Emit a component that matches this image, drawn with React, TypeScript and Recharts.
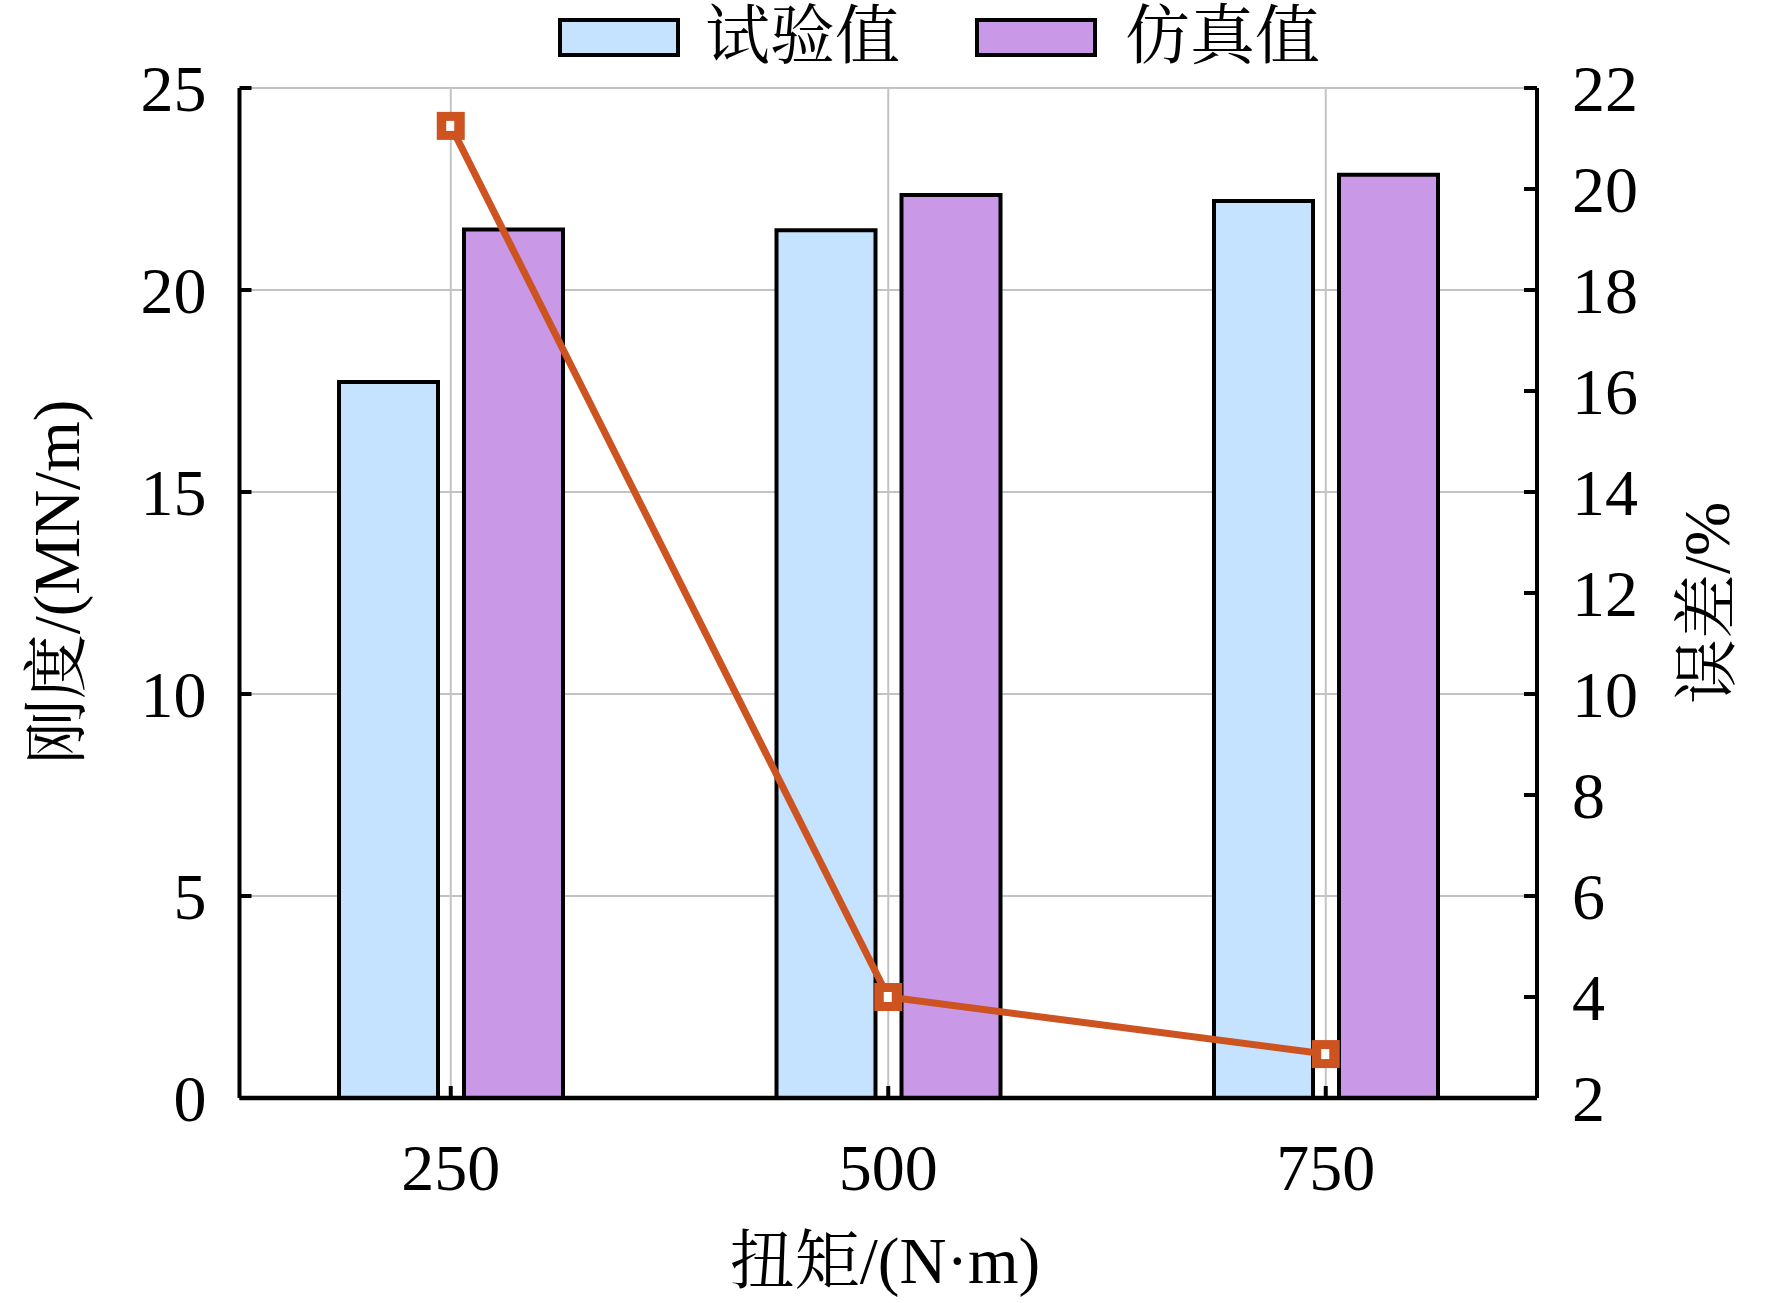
import React from "react";
import {
  ComposedChart,
  Bar,
  Line,
  XAxis,
  YAxis,
  CartesianGrid,
} from "recharts";

// 扭矩 categories and measured values
const torque = ["250", "500", "750"];
const testValues = [17.72, 21.48, 22.2]; // 试验值, MN/m
const simValues = [21.5, 22.35, 22.85]; // 仿真值, MN/m
const errorValues = [21.25, 4.0, 2.87]; // 误差, %

const leftTicks = [0, 5, 10, 15, 20, 25];
const rightTicks = [2, 4, 6, 8, 10, 12, 14, 16, 18, 20, 22];

const W = 1772;
const H = 1303;
const FONT = "'Liberation Serif', 'Times New Roman', 'Noto Serif CJK SC', 'Noto Sans CJK SC', serif";
const BLUE = "#C5E2FE";
const PURPLE = "#C999E8";
const ORANGE = "#CD5320";
const GRID = "#C3C3C3";

const data = torque.map((t, i) => ({
  torque: t,
  test: testValues[i],
  sim: simValues[i],
  error: errorValues[i],
}));

const legendItems = [
  { name: "试验值", color: BLUE, box: 558, text: 705 },
  { name: "仿真值", color: PURPLE, box: 975, text: 1125 },
];

const BottomTick = (props: any) => {
  const { x, y, payload } = props;
  return (
    <g>
      <line x1={x} x2={x} y1={y} y2={y - 12} stroke="#000" strokeWidth={4} />
      <text x={x} y={y + 92} textAnchor="middle" fontSize={66} fontFamily={FONT} fill="#000">
        {payload.value}
      </text>
    </g>
  );
};

const TopTick = (props: any) => {
  const { x, y } = props;
  return <line x1={x} x2={x} y1={y} y2={y + 12} stroke="#000" strokeWidth={4} />;
};

const LeftTick = (props: any) => {
  const { x, y, payload } = props;
  return (
    <g>
      <line x1={x} x2={x + 12} y1={y} y2={y} stroke="#000" strokeWidth={4} />
      <text x={x - 33} y={y + 23} textAnchor="end" fontSize={66} fontFamily={FONT} fill="#000">
        {payload.value}
      </text>
    </g>
  );
};

const RightTick = (props: any) => {
  const { x, y, payload } = props;
  return (
    <g>
      <line x1={x - 13} x2={x} y1={y} y2={y} stroke="#000" strokeWidth={4} />
      <text x={x + 35} y={y + 23} textAnchor="start" fontSize={66} fontFamily={FONT} fill="#000">
        {payload.value}
      </text>
    </g>
  );
};

const SquareDot = (props: any) => {
  const { cx, cy, index } = props;
  if (cx == null || cy == null) return null;
  return (
    <g key={`dot-${index}`}>
      <rect x={cx - 14} y={cy - 14} width={28} height={28} fill={ORANGE} />
      <rect x={cx - 4.5} y={cy - 5} width={8} height={10} fill="#fff" />
    </g>
  );
};

export default function App() {
  return (
    <div style={{ position: "absolute", left: 0, top: 0, width: W, height: H, background: "#fff" }}>
      <ComposedChart
        width={W}
        height={H}
        data={data}
        margin={{ top: 88, right: 0, bottom: 0, left: 0 }}
        barSize={99}
        barGap={26}
      >
        <CartesianGrid yAxisId="left" stroke={GRID} strokeWidth={2} />
        <XAxis
          dataKey="torque"
          height={205}
          padding={{ left: -7.5, right: -7.5 }}
          axisLine={{ stroke: "#000", strokeWidth: 4.5 }}
          tickLine={false}
          tickSize={0}
          tickMargin={0}
          tick={<BottomTick />}
          interval={0}
        />
        <XAxis
          xAxisId="top"
          dataKey="torque"
          orientation="top"
          height={0}
          padding={{ left: -7.5, right: -7.5 }}
          axisLine={{ stroke: "#000", strokeWidth: 4 }}
          tickLine={false}
          tickSize={0}
          tickMargin={0}
          tick={<TopTick />}
          interval={0}
        />
        <YAxis
          yAxisId="left"
          width={239.5}
          domain={[0, 25]}
          ticks={leftTicks}
          interval={0}
          axisLine={{ stroke: "#000", strokeWidth: 4 }}
          tickLine={false}
          tickSize={0}
          tickMargin={0}
          tick={<LeftTick />}
        />
        <YAxis
          yAxisId="right"
          orientation="right"
          width={235}
          domain={[2, 22]}
          ticks={rightTicks}
          interval={0}
          axisLine={{ stroke: "#000", strokeWidth: 4 }}
          tickLine={false}
          tickSize={0}
          tickMargin={0}
          tick={<RightTick />}
        />
        <Bar yAxisId="left" dataKey="test" name="试验值" fill={BLUE} stroke="#000" strokeWidth={4} isAnimationActive={false} />
        <Bar yAxisId="left" dataKey="sim" name="仿真值" fill={PURPLE} stroke="#000" strokeWidth={4} isAnimationActive={false} />
        <Line
          yAxisId="right"
          dataKey="error"
          name="误差"
          stroke={ORANGE}
          strokeWidth={7}
          dot={<SquareDot />}
          activeDot={false}
          isAnimationActive={false}
        />
        <text x={79} y={582} transform="rotate(-90 79 582)" textAnchor="middle" fontSize={65} fontFamily={FONT} fill="#000">
          刚度/(MN/m)
        </text>
        <text x={1729} y={603} transform="rotate(-90 1729 603)" textAnchor="middle" fontSize={65} fontFamily={FONT} fill="#000">
          误差/%
        </text>
        <text x={885} y={1283} textAnchor="middle" fontSize={65} fontFamily={FONT} fill="#000">
          扭矩/(N·m)
        </text>
      </ComposedChart>
      {legendItems.map((item) => (
        <React.Fragment key={item.name}>
          <div
            style={{
              position: "absolute",
              left: item.box,
              top: 18,
              width: 122,
              height: 39,
              boxSizing: "border-box",
              border: "4px solid #000",
              background: item.color,
            }}
          />
          <div
            style={{
              position: "absolute",
              left: item.text,
              top: 0,
              height: 72,
              lineHeight: "72px",
              fontSize: 65,
              fontFamily: FONT,
              whiteSpace: "nowrap",
            }}
          >
            {item.name}
          </div>
        </React.Fragment>
      ))}
    </div>
  );
}
